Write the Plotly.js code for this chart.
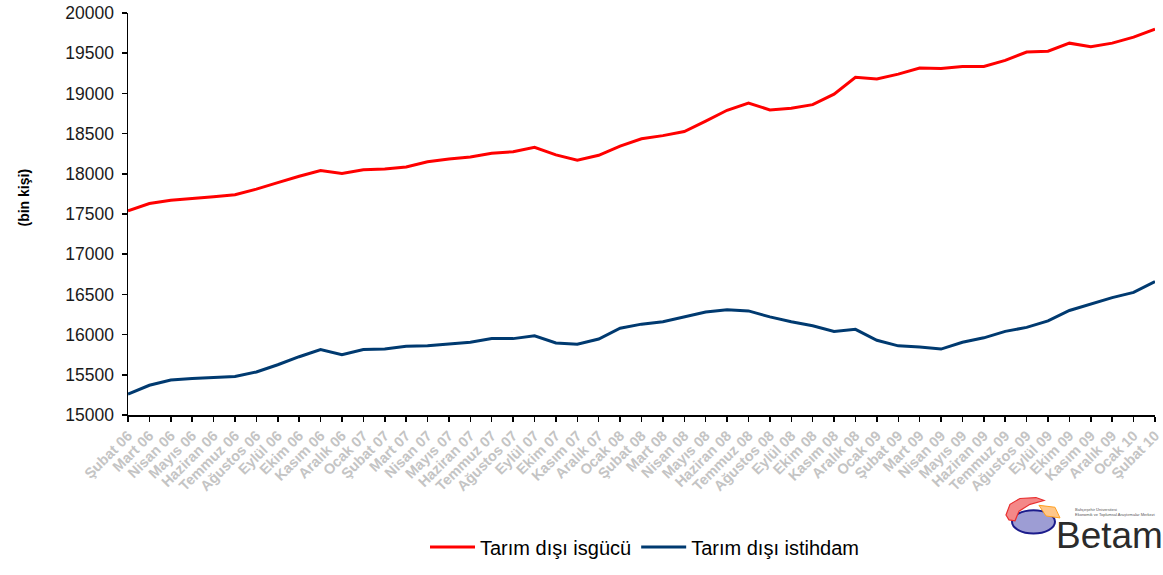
<!DOCTYPE html>
<html>
<head>
<meta charset="utf-8">
<script src="https://cdn.plot.ly/plotly-3.0.1.min.js"></script>
<style>html,body{margin:0;padding:0;background:#fff;}#chart{width:1163px;height:575px;}</style>
</head>
<body>
<div id="chart"></div>
<script>
var categories = [
  "Şubat 06","Mart 06","Nisan 06","Mayıs 06","Haziran 06","Temmuz 06","Ağustos 06","Eylül 06","Ekim 06","Kasım 06","Aralık 06",
  "Ocak 07","Şubat 07","Mart 07","Nisan 07","Mayıs 07","Haziran 07","Temmuz 07","Ağustos 07","Eylül 07","Ekim 07","Kasım 07","Aralık 07",
  "Ocak 08","Şubat 08","Mart 08","Nisan 08","Mayıs 08","Haziran 08","Temmuz 08","Ağustos 08","Eylül 08","Ekim 08","Kasım 08","Aralık 08",
  "Ocak 09","Şubat 09","Mart 09","Nisan 09","Mayıs 09","Haziran 09","Temmuz 09","Ağustos 09","Eylül 09","Ekim 09","Kasım 09","Aralık 09",
  "Ocak 10","Şubat 10"
];

var isgucu = [
  17540,17630,17670,17690,17715,17740,17810,17890,17970,18040,18005,
  18050,18060,18085,18150,18185,18210,18255,18275,18330,18235,18170,18230,
  18345,18435,18475,18525,18655,18790,18880,18795,18815,18860,18990,19200,
  19180,19240,19315,19310,19335,19335,19410,19515,19525,19625,19580,19625,
  19700,19800
];

var istihdam = [
  15260,15370,15435,15455,15465,15480,15535,15625,15725,15815,15750,
  15815,15820,15855,15860,15885,15905,15950,15950,15985,15895,15880,15945,
  16080,16130,16160,16220,16280,16310,16295,16220,16160,16110,16040,16065,
  15930,15860,15845,15820,15905,15960,16040,16090,16170,16300,16380,16460,
  16525,16660
];

var seriesNames = ["Tarım dışı isgücü", "Tarım dışı istihdam"];

// plot area in pixels: left 128, right 1155, top 13, bottom 427
var L = 128, R = 1155, T = 13, B = 427;
function px(x){ return (x - L) / (R - L); }
function py(y){ return (B - y) / (B - T); }
function poly(pts){
  return pts.map(function(p, i){ return (i ? 'L' : 'M') + px(p[0]).toFixed(4) + ',' + py(p[1]).toFixed(4); }).join(' ') + ' Z';
}

var font = '"Liberation Sans", Arial, sans-serif';

var traces = [
  {x: categories, y: isgucu, name: seriesNames[0], type: 'scatter', mode: 'lines',
   line: {color: '#ff0000', width: 3}},
  {x: categories, y: istihdam, name: seriesNames[1], type: 'scatter', mode: 'lines',
   line: {color: '#003a70', width: 3}}
];

var layout = {
  width: 1163, height: 575,
  margin: {l: L, r: 1163 - R, t: T, b: 575 - B, pad: 0},
  paper_bgcolor: '#ffffff', plot_bgcolor: '#ffffff',
  font: {family: font, color: '#000'},
  showlegend: true,
  legend: {orientation: 'h', x: px(425), xanchor: 'left', y: py(563), yanchor: 'middle',
           bgcolor: 'rgba(0,0,0,0)',
           font: {size: 20, color: '#000', family: font}, itemwidth: 45, tracegroupgap: 0},
  xaxis: {
    type: 'category', range: [0, categories.length - 1],
    showgrid: false, zeroline: false,
    showline: true, linecolor: '#000', linewidth: 1.5,
    ticks: 'outside', ticklen: 5, tickcolor: '#000', tickwidth: 1.5,
    tickangle: -45, tickfont: {size: 14.5, color: '#c4c4c4', family: font, weight: 'bold'},
    automargin: false, fixedrange: true
  },
  yaxis: {
    range: [15000, 20000], dtick: 500, tick0: 15000, tickformat: 'd',
    showgrid: false, zeroline: false,
    showline: true, linecolor: '#000', linewidth: 1.5,
    ticks: 'outside', ticklen: 5, tickcolor: '#000', tickwidth: 1.5,
    tickfont: {size: 17.5, color: '#1a1a1a', family: font},
    ticklabelstandoff: 4,
    automargin: false, fixedrange: true
  },
  annotations: [
    {text: '<b>(bin kişi)</b>', xref: 'paper', yref: 'paper', x: px(24), y: py(203),
     xanchor: 'center', yanchor: 'middle', textangle: -90, showarrow: false,
     font: {size: 14, color: '#000', family: font}},
    {text: 'Betam', xref: 'paper', yref: 'paper', x: px(1109), y: py(551),
     xanchor: 'center', yanchor: 'middle', showarrow: false,
     font: {size: 37, color: '#2b2b2b', family: font}},
    {text: 'Bahçeşehir Üniversitesi<br>Ekonomik ve Toplumsal Araştırmalar Merkezi', xref: 'paper', yref: 'paper',
     x: px(1073), y: py(527), xanchor: 'left', yanchor: 'middle', align: 'left', showarrow: false,
     font: {size: 4, color: '#555', family: font}}
  ],
  shapes: [
    {type: 'circle', xref: 'paper', yref: 'paper', x0: px(1012), x1: px(1055), y0: py(549), y1: py(525),
     fillcolor: '#9d9dd4', line: {color: '#1c1c8c', width: 2}},
    {type: 'path', xref: 'paper', yref: 'paper',
     path: poly([[1006,530],[1010,519],[1020,513],[1036,512],[1044,515],[1030,519],[1019,526],[1015,536],[1009,535]]),
     fillcolor: '#f48888', line: {color: '#e83030', width: 1.2}},
    {type: 'path', xref: 'paper', yref: 'paper',
     path: poly([[1039,520],[1055,522],[1060,533],[1046,531]]),
     fillcolor: '#ffc789', line: {color: '#ffa020', width: 1}}
  ]
};

Plotly.newPlot('chart', traces, layout, {displayModeBar: false, staticPlot: true});
</script>
</body>
</html>
